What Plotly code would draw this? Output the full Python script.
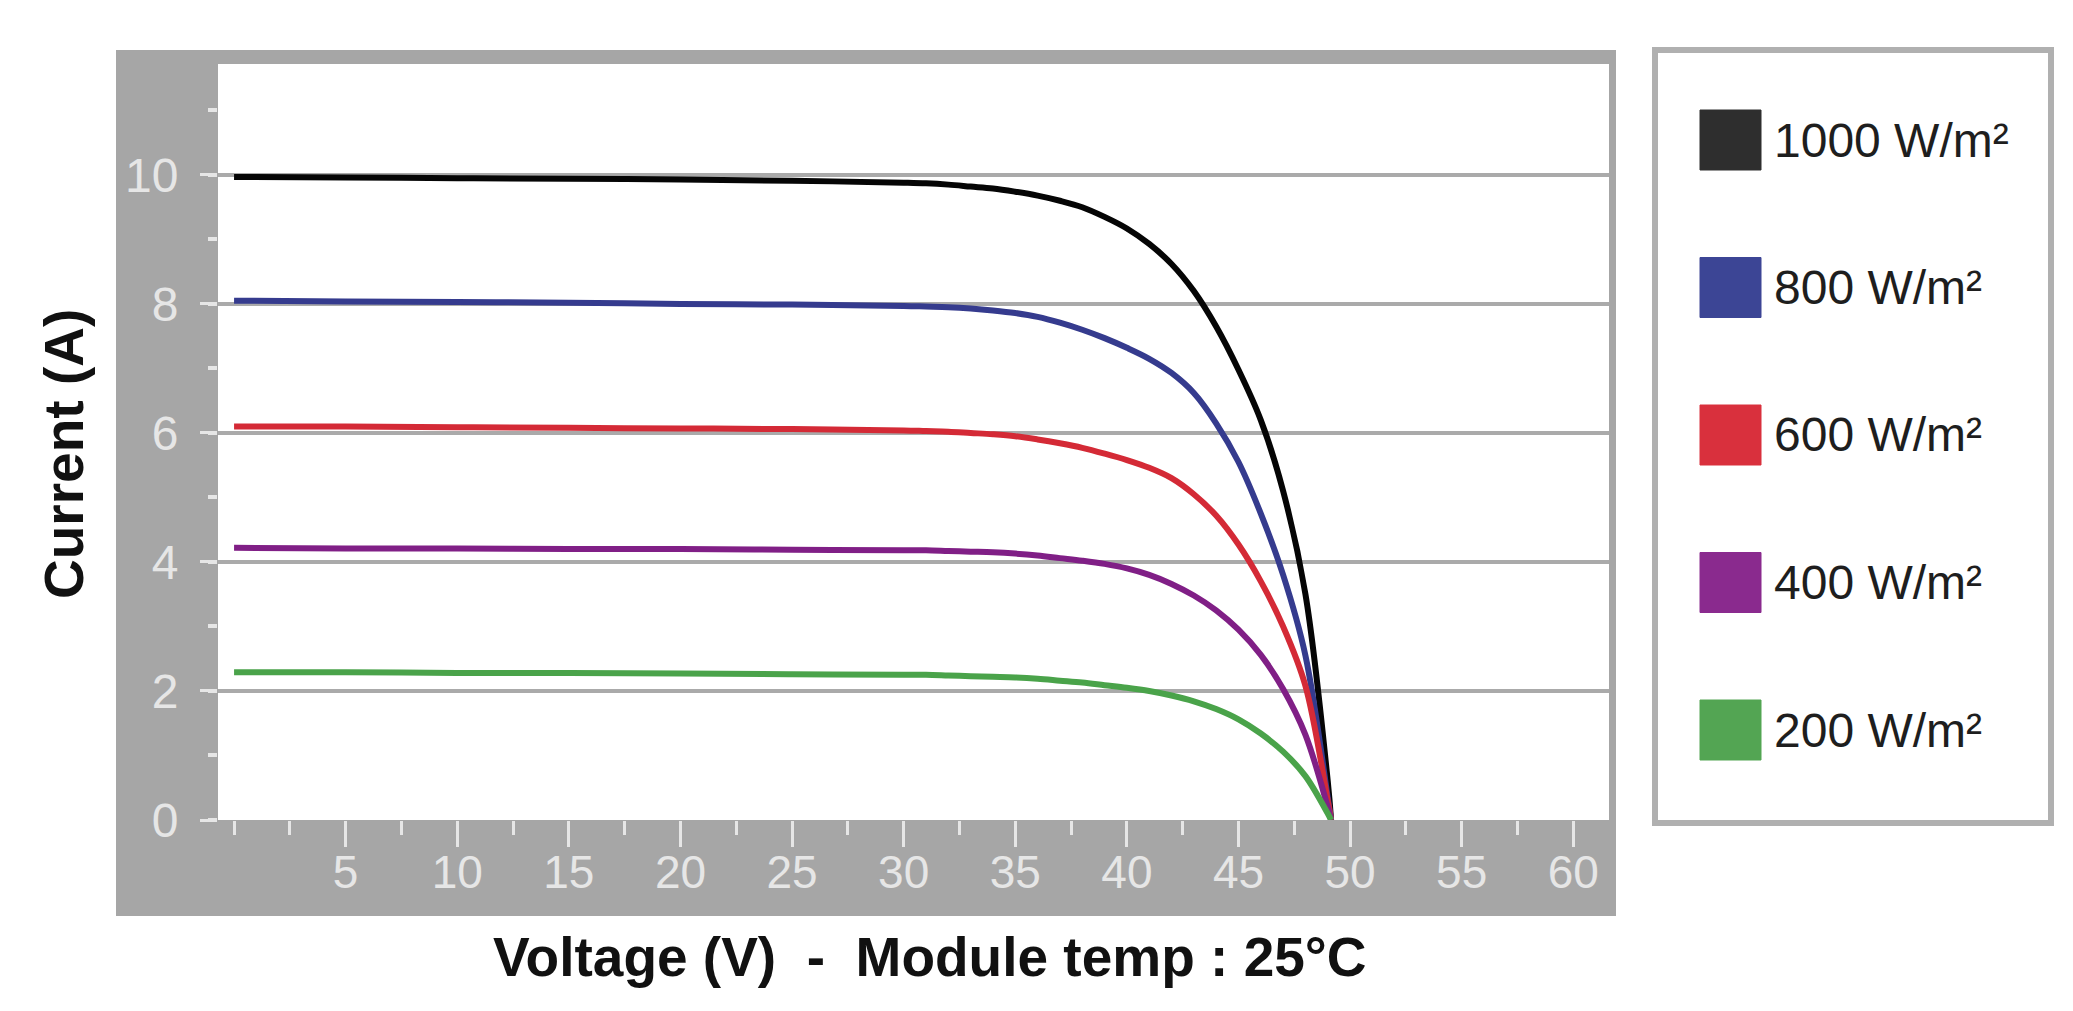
import plotly.graph_objects as go

# I-V curves, module temp 25 C
voltage = [0, 5, 10, 15, 20, 25, 30, 31, 32, 33, 34, 35, 36, 37, 38, 39, 40, 41, 42, 43, 44, 45, 46, 47, 48, 49, 49.15]
i_1000 = [9.97, 9.96, 9.95, 9.94, 9.93, 9.91, 9.88, 9.87, 9.85, 9.82, 9.79, 9.74, 9.68, 9.6, 9.5, 9.35, 9.17, 8.93, 8.62, 8.2, 7.65, 6.98, 6.2, 5.1, 3.5, 0.6, 0]
i_800 = [8.05, 8.04, 8.03, 8.02, 8.0, 7.99, 7.97, 7.96, 7.95, 7.93, 7.9, 7.86, 7.8, 7.71, 7.6, 7.47, 7.32, 7.15, 6.93, 6.62, 6.15, 5.55, 4.75, 3.8, 2.55, 0.35, 0]
i_600 = [6.1, 6.1, 6.09, 6.08, 6.07, 6.06, 6.04, 6.03, 6.02, 6.0, 5.98, 5.95, 5.9, 5.84, 5.77, 5.68, 5.58, 5.46, 5.3, 5.05, 4.72, 4.27, 3.7, 3.0, 2.08, 0.3, 0]
i_400 = [4.22, 4.21, 4.21, 4.2, 4.2, 4.19, 4.18, 4.18, 4.17, 4.16, 4.15, 4.13, 4.1, 4.06, 4.02, 3.97, 3.9, 3.8, 3.66, 3.48, 3.25, 2.95, 2.56, 2.03, 1.32, 0.2, 0]
i_200 = [2.29, 2.29, 2.28, 2.28, 2.27, 2.26, 2.25, 2.25, 2.24, 2.23, 2.22, 2.21, 2.19, 2.16, 2.13, 2.09, 2.05, 2.0, 1.93, 1.84, 1.72, 1.56, 1.34, 1.06, 0.68, 0.1, 0]

labels = ["1000 W/m²", "800 W/m²", "600 W/m²", "400 W/m²", "200 W/m²"]
line_colors = ["#050505", "#353b8e", "#d42a36", "#801f86", "#4aa34a"]
box_colors = ["#2e2e2e", "#3c4595", "#d9303d", "#8a2a8e", "#53a553"]

y_ticks = [0, 2, 4, 6, 8, 10]
x_ticks = [5, 10, 15, 20, 25, 30, 35, 40, 45, 50, 55, 60]

W, H = 2073, 1011
L, R, T, B = 210, 1601, 56, 812
FRAME = "#a6a6a6"
TICKC = "#e6e6e6"
SANS = "Liberation Sans, Arial, sans-serif"


def px(x):
    return (x - L) / (R - L)


def py(y):
    return (B - y) / (B - T)


fig = go.Figure()
for cur, c in zip([i_1000, i_800, i_600, i_400, i_200], line_colors):
    fig.add_trace(go.Scatter(x=voltage, y=cur, mode="lines",
                             line=dict(color=c, width=6, shape="spline", smoothing=1.0),
                             showlegend=False, hoverinfo="skip"))

shapes = []
# grey frame round the plot area (left band, bottom band, top and right strips)
for x0, y0, x1, y1 in [(108, 42, L, 908), (108, B, 1608, 908), (108, 42, 1608, T), (R, 42, 1608, 908)]:
    shapes.append(dict(type="rect", xref="paper", yref="paper", layer="below",
                       x0=px(x0), x1=px(x1), y0=py(y1), y1=py(y0),
                       fillcolor=FRAME, line=dict(width=0)))

# legend box
shapes.append(dict(type="rect", xref="paper", yref="paper",
                   x0=px(1647), x1=px(2043), y0=py(815), y1=py(42),
                   fillcolor="white", line=dict(color="#b0b0b0", width=6)))
annotations = []
for k, (lab, c) in enumerate(zip(labels, box_colors)):
    yc = 132 + 147.5 * k
    shapes.append(dict(type="rect", xref="paper", yref="paper",
                       x0=px(1692), x1=px(1753), y0=py(yc + 30), y1=py(yc - 30),
                       fillcolor=c, line=dict(color=c, width=1)))
    annotations.append(dict(xref="paper", yref="paper", x=px(1764), y=py(yc),
                            xanchor="left", yanchor="middle", showarrow=False,
                            text=lab, font=dict(family=SANS, size=48, color="#1e1e1e")))

annotations.append(dict(xref="paper", yref="paper", x=px(922), y=py(949),
                        xanchor="center", yanchor="middle", showarrow=False,
                        text="<b>Voltage (V)  -  Module temp : 25°C</b>",
                        font=dict(family=SANS, size=55, color="#111111")))
annotations.append(dict(xref="paper", yref="paper", x=px(56), y=py(446),
                        xanchor="center", yanchor="middle", showarrow=False, textangle=-90,
                        text="<b>Current (A)</b>",
                        font=dict(family=SANS, size=55, color="#111111")))

fig.update_layout(
    width=W, height=H,
    margin=dict(l=L, r=W - R, t=T, b=H - B),
    paper_bgcolor="white", plot_bgcolor="white",
    shapes=shapes, annotations=annotations,
)
fig.update_xaxes(range=[-0.72, 61.6], tickvals=x_ticks, ticks="outside", ticklen=26, tickwidth=3,
                 tickcolor=TICKC, showgrid=False, zeroline=False, showline=False,
                 minor=dict(tick0=0, dtick=2.5, ticks="outside", ticklen=14, tickwidth=3, tickcolor=TICKC),
                 tickfont=dict(family=SANS, size=46, color=TICKC), ticklabelstandoff=-14)
fig.update_yaxes(range=[0, 11.72], tickvals=y_ticks, ticks="outside", ticklen=17, tickwidth=3,
                 tickcolor=TICKC, showgrid=True, gridcolor="#aaaaaa", gridwidth=4,
                 zeroline=False, showline=False,
                 minor=dict(tick0=0, dtick=1, ticks="outside", ticklen=9, tickwidth=4, tickcolor=TICKC),
                 tickfont=dict(family=SANS, size=48, color=TICKC), ticklabelstandoff=12)

fig.write_html("out.html")
